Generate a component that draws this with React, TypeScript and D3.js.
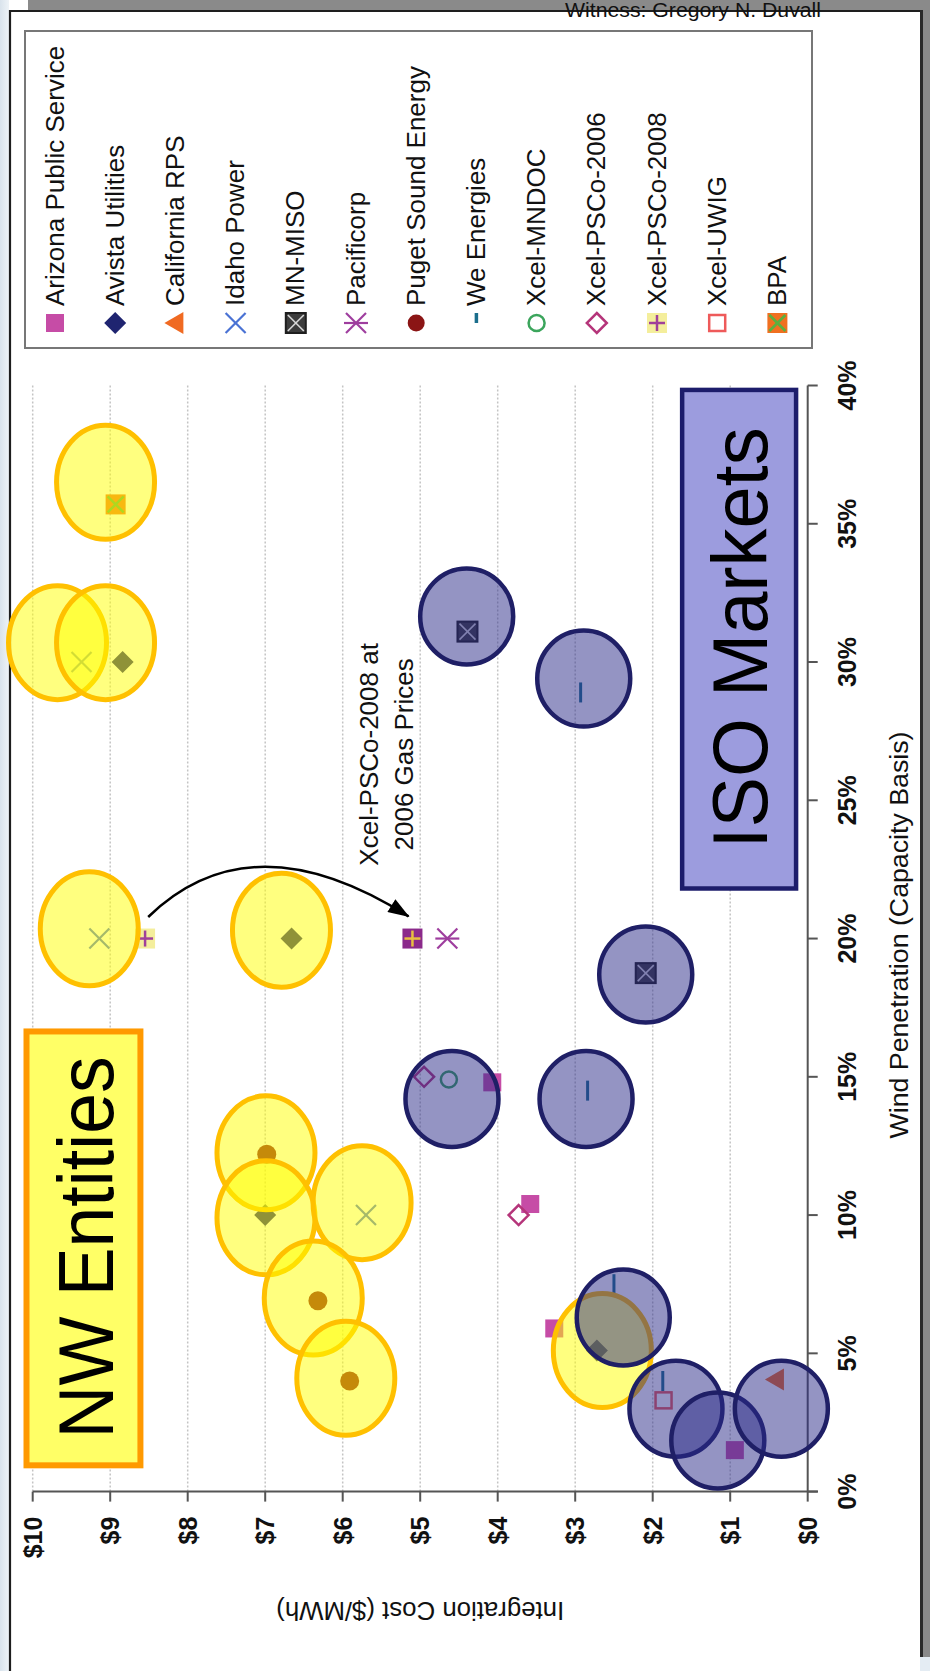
import React from "react";
import * as d3 from "d3";

type Pt = { cost: number; wind: number };

// ---------------- data ----------------
const costTicks = [0, 1, 2, 3, 4, 5, 6, 7, 8, 9, 10];
const costTickLabels = ["$0", "$1", "$2", "$3", "$4", "$5", "$6", "$7", "$8", "$9", "$10"];
const windTicks = [0, 5, 10, 15, 20, 25, 30, 35, 40];
const windTickLabels = ["0%", "5%", "10%", "15%", "20%", "25%", "30%", "35%", "40%"];

const arizonaPublicService: Pt[] = [
  { cost: 4.07, wind: 14.8 },
  { cost: 3.58, wind: 10.4 },
  { cost: 3.27, wind: 5.9 },
  { cost: 0.94, wind: 1.5 },
];
const avistaUtilities: Pt[] = [
  { cost: 8.84, wind: 30.0 },
  { cost: 6.66, wind: 20.0 },
  { cost: 7.0, wind: 10.0 },
  { cost: 2.72, wind: 5.1 },
];
const californiaRPS: Pt[] = [{ cost: 0.41, wind: 4.05 }];
const idahoPower: Pt[] = [
  { cost: 9.37, wind: 30.0 },
  { cost: 9.14, wind: 20.0 },
  { cost: 5.7, wind: 10.0 },
];
const mnMiso: Pt[] = [
  { cost: 4.39, wind: 31.1 },
  { cost: 2.09, wind: 18.75 },
];
const pacificorp: Pt[] = [{ cost: 4.65, wind: 20.0 }];
const pugetSoundEnergy: Pt[] = [
  { cost: 6.98, wind: 12.2 },
  { cost: 6.32, wind: 6.9 },
  { cost: 5.91, wind: 4.0 },
];
const weEnergies: Pt[] = [
  { cost: 2.93, wind: 28.9 },
  { cost: 2.84, wind: 14.5 },
  { cost: 2.5, wind: 7.5 },
  { cost: 1.87, wind: 4.0 },
];
const xcelMNDOC: Pt[] = [{ cost: 4.63, wind: 14.9 }];
const xcelPSCo2006: Pt[] = [
  { cost: 4.95, wind: 15.0 },
  { cost: 3.73, wind: 10.0 },
];
const xcelPSCo2008: Pt[] = [{ cost: 8.55, wind: 20.0 }];
const xcelPSCo2008At2006Gas: Pt[] = [{ cost: 5.1, wind: 20.0 }];
const xcelUWIG: Pt[] = [{ cost: 1.86, wind: 3.3 }];
const bpa: Pt[] = [{ cost: 8.93, wind: 35.7 }];

const legendNames = [
  "Arizona Public Service",
  "Avista Utilities",
  "California RPS",
  "Idaho Power",
  "MN-MISO",
  "Pacificorp",
  "Puget Sound Energy",
  "We Energies",
  "Xcel-MNDOC",
  "Xcel-PSCo-2006",
  "Xcel-PSCo-2008",
  "Xcel-UWIG",
  "BPA",
];

// hand-drawn highlight circles (centres in data units)
const nwEntityCircles: Pt[] = [
  { cost: 9.06, wind: 36.5 },
  { cost: 9.68, wind: 30.7 },
  { cost: 9.06, wind: 30.7 },
  { cost: 9.27, wind: 20.35 },
  { cost: 6.79, wind: 20.3 },
  { cost: 6.99, wind: 12.25 },
  { cost: 6.99, wind: 9.9 },
  { cost: 5.75, wind: 10.45 },
  { cost: 6.38, wind: 7.0 },
  { cost: 5.96, wind: 4.1 },
  { cost: 2.65, wind: 5.1 },
];
const isoMarketCircles: Pt[] = [
  { cost: 4.4, wind: 31.65 },
  { cost: 2.89, wind: 29.4 },
  { cost: 2.09, wind: 18.7 },
  { cost: 4.59, wind: 14.2 },
  { cost: 2.86, wind: 14.2 },
  { cost: 2.38, wind: 6.3 },
  { cost: 1.7, wind: 3.0 },
  { cost: 1.16, wind: 1.85 },
  { cost: 0.34, wind: 3.0 },
];

const witnessText = "Witness: Gregory N. Duvall";
const xAxisTitle = "Wind Penetration (Capacity Basis)";
const yAxisTitle = "Integration Cost ($/MWh)";
const nwLabel = "NW Entities";
const isoLabel = "ISO Markets";
const annotationLines = ["Xcel-PSCo-2008 at", "2006 Gas Prices"];

// ---------------- series table ----------------
const series = [
  { shape: "square", points: arizonaPublicService },
  { shape: "diamond", points: avistaUtilities },
  { shape: "triangle", points: californiaRPS },
  { shape: "x", points: idahoPower },
  { shape: "boxx", points: mnMiso },
  { shape: "asterisk", points: pacificorp },
  { shape: "dot", points: pugetSoundEnergy },
  { shape: "dash", points: weEnergies },
  { shape: "hollowCircle", points: xcelMNDOC },
  { shape: "hollowDiamond", points: xcelPSCo2006 },
  { shape: "plusYellow", points: xcelPSCo2008 },
  { shape: "hollowSquare", points: xcelUWIG },
  { shape: "bpa", points: bpa },
  { shape: "plusPurple", points: xcelPSCo2008At2006Gas },
];

const FONT = "'Liberation Sans', Arial, Helvetica, sans-serif";

function Marker({ shape, cx, cy, legend }: { shape: string; cx: number; cy: number; legend?: boolean }) {
  switch (shape) {
    case "square":
      return <rect x={cx - 9} y={cy - 9} width={18} height={18} fill="#C64CA6" />;
    case "diamond":
      return <path d={`M${cx},${cy - 11}L${cx + 11},${cy}L${cx},${cy + 11}L${cx - 11},${cy}Z`} fill="#1F2470" />;
    case "triangle":
      return <path d={`M${cx - 11},${cy}L${cx + 8},${cy - 11}L${cx + 8},${cy + 11}Z`} fill="#F06A22" />;
    case "x":
      return (
        <g stroke="#4A72D4" strokeWidth={2.2}>
          <line x1={cx - 10} y1={cy - 10} x2={cx + 10} y2={cy + 10} />
          <line x1={cx - 10} y1={cy + 10} x2={cx + 10} y2={cy - 10} />
        </g>
      );
    case "boxx":
      return (
        <g>
          <rect x={cx - 10} y={cy - 10} width={20} height={20} fill="#3c3c3c" stroke="#1e1e1e" strokeWidth={2} />
          <line x1={cx - 8} y1={cy - 8} x2={cx + 8} y2={cy + 8} stroke="#d8d8d8" strokeWidth={1.6} />
          <line x1={cx - 8} y1={cy + 8} x2={cx + 8} y2={cy - 8} stroke="#d8d8d8" strokeWidth={1.6} />
        </g>
      );
    case "asterisk":
      return (
        <g stroke="#9E3D9E" strokeWidth={2.2}>
          <line x1={cx - 10} y1={cy - 10} x2={cx + 10} y2={cy + 10} />
          <line x1={cx - 10} y1={cy + 10} x2={cx + 10} y2={cy - 10} />
          <line x1={cx - 12} y1={cy} x2={cx + 12} y2={cy} />
        </g>
      );
    case "dot":
      return <circle cx={cx} cy={cy} r={legend ? 8.5 : 9.5} fill="#8B1515" />;
    case "dash":
      return legend ? (
        <line x1={cx} y1={cy - 5} x2={cx} y2={cy + 5} stroke="#1B6E8C" strokeWidth={3.5} />
      ) : (
        <line x1={cx} y1={cy - 10} x2={cx} y2={cy + 10} stroke="#1B6E8C" strokeWidth={3} />
      );
    case "hollowCircle":
      return <circle cx={cx} cy={cy} r={8} fill="none" stroke="#3BA55C" strokeWidth={2.5} />;
    case "hollowDiamond":
      return (
        <path
          d={`M${cx},${cy - 10}L${cx + 10},${cy}L${cx},${cy + 10}L${cx - 10},${cy}Z`}
          fill="none"
          stroke="#B5357A"
          strokeWidth={2.5}
        />
      );
    case "plusYellow":
      return (
        <g>
          <rect x={cx - 10} y={cy - 10} width={20} height={20} fill="#F4EE9C" />
          <line x1={cx - 8} y1={cy} x2={cx + 8} y2={cy} stroke="#A0409A" strokeWidth={2.5} />
          <line x1={cx} y1={cy - 8} x2={cx} y2={cy + 8} stroke="#A0409A" strokeWidth={2.5} />
        </g>
      );
    case "hollowSquare":
      return <rect x={cx - 8} y={cy - 8} width={16} height={16} fill="none" stroke="#EE5A5A" strokeWidth={2.5} />;
    case "bpa":
      return (
        <g>
          <rect x={cx - 10} y={cy - 10} width={20} height={20} fill="#F07020" />
          <line x1={cx - 8} y1={cy - 8} x2={cx + 8} y2={cy + 8} stroke="#5AB040" strokeWidth={2.5} />
          <line x1={cx - 8} y1={cy + 8} x2={cx + 8} y2={cy - 8} stroke="#5AB040" strokeWidth={2.5} />
        </g>
      );
    case "plusPurple":
      return (
        <g>
          <rect x={cx - 10} y={cy - 10} width={20} height={20} fill="#8B2A8B" />
          <line x1={cx - 8} y1={cy} x2={cx + 8} y2={cy} stroke="#E8C040" strokeWidth={2.5} />
          <line x1={cx} y1={cy - 8} x2={cx} y2={cy + 8} stroke="#E8C040" strokeWidth={2.5} />
        </g>
      );
    default:
      return null;
  }
}

export default function App() {
  const W = 930;
  const H = 1671;
  const x = d3.scaleLinear().domain([0, 10]).range([807.7, 32.7]);
  const y = d3.scaleLinear().domain([0, 40]).range([1491.6, 385.5]);

  const legendX = d3.scaleLinear().domain([0, legendNames.length - 1]).range([55, 777.4]);
  const legendMarkerY = 323;
  const legendTextY = 306;

  // arrow (data units)
  const arrowStart = { cost: 8.51, wind: 20.78 };
  const arrowCtrl = { cost: 7.18, wind: 24.4 };
  const arrowEnd = { cost: 5.15, wind: 20.8 };
  const arrowPath = d3.path();
  arrowPath.moveTo(x(arrowStart.cost), y(arrowStart.wind));
  arrowPath.quadraticCurveTo(x(arrowCtrl.cost), y(arrowCtrl.wind), x(arrowEnd.cost), y(arrowEnd.wind));

  const nwBox = { c0: 10.08, c1: 8.61, w0: 16.64, w1: 0.95 };
  const isoBox = { c0: 1.62, c1: 0.15, w0: 39.84, w1: 21.81 };

  const rot = (px: number, py: number) => `rotate(-90 ${px} ${py})`;

  return (
    <svg
      width={W}
      height={H}
      viewBox={`0 0 ${W} ${H}`}
      style={{ position: "absolute", left: 0, top: 0, display: "block" }}
      fontFamily={FONT}
    >
      <defs>
        <linearGradient id="leftStrip" x1="0" x2="1" y1="0" y2="0">
          <stop offset="0" stopColor="#d9e3ec" />
          <stop offset="1" stopColor="#eef3f7" />
        </linearGradient>
        <marker
          id="arrowHead"
          viewBox="0 0 10 7"
          refX={9.5}
          refY={3.5}
          markerWidth={22}
          markerHeight={15}
          markerUnits="userSpaceOnUse"
          orient="auto"
        >
          <path d="M0,0L10,3.5L0,7Z" fill="#000" />
        </marker>
      </defs>

      {/* page / frame */}
      <rect x={0} y={0} width={W} height={H} fill="#ffffff" />
      <rect x={0} y={0} width={9} height={H} fill="url(#leftStrip)" />
      <rect x={28} y={0} width={W - 28} height={10} fill="#8a8a8a" />
      <rect x={920} y={0} width={10} height={1657} fill="#8a8a8a" />
      <rect x={920} y={1657} width={10} height={H - 1657} fill="#e4ecf3" />
      <line x1={9} y1={11} x2={922} y2={11} stroke="#1e1e1e" strokeWidth={2.2} />
      <line x1={10} y1={10} x2={10} y2={H} stroke="#1e1e1e" strokeWidth={2.2} />
      <line x1={921.5} y1={10} x2={921.5} y2={1657} stroke="#2a2a2a" strokeWidth={3} />

      <text x={565} y={17} fontSize={20} fill="#111" textLength={256} lengthAdjust="spacingAndGlyphs">
        {witnessText}
      </text>

      {/* legend */}
      <rect x={25} y={31} width={787} height={317} fill="#fff" stroke="#777" strokeWidth={2} />
      {legendNames.map((name, i) => {
        const cx = legendX(i);
        const shape = series[i].shape;
        return (
          <g key={name}>
            <Marker shape={shape} cx={cx} cy={shape === "dash" ? 318 : legendMarkerY} legend />
            <text x={cx + 8.5} y={legendTextY} transform={rot(cx + 8.5, legendTextY)} fontSize={26} fill="#111">
              {name}
            </text>
          </g>
        );
      })}

      {/* grid */}
      {costTicks
        .filter((t) => t > 0)
        .map((t) => (
          <line
            key={"g" + t}
            x1={x(t)}
            x2={x(t)}
            y1={y(0)}
            y2={y(40)}
            stroke="#c4c4c4"
            strokeWidth={1.5}
            strokeDasharray="2,2"
          />
        ))}

      {/* axes */}
      <line x1={x(10)} x2={818} y1={y(0)} y2={y(0)} stroke="#555" strokeWidth={2} />
      <line x1={x(0)} x2={x(0)} y1={y(0)} y2={y(40)} stroke="#555" strokeWidth={2} />
      {costTicks.map((t, i) => (
        <g key={"ct" + t}>
          <line x1={x(t)} x2={x(t)} y1={y(0)} y2={y(0) + 10} stroke="#555" strokeWidth={2} />
          <text
            x={x(t) + 9}
            y={y(0) + 25}
            transform={rot(x(t) + 9, y(0) + 25)}
            textAnchor="end"
            fontSize={25}
            fontWeight="bold"
            fill="#111"
          >
            {costTickLabels[i]}
          </text>
        </g>
      ))}
      {windTicks.map((t, i) => (
        <g key={"wt" + t}>
          <line x1={x(0)} x2={x(0) + 10} y1={y(t)} y2={y(t)} stroke="#555" strokeWidth={2} />
          <text
            x={x(0) + 48}
            y={y(t)}
            transform={rot(x(0) + 48, y(t))}
            textAnchor="middle"
            fontSize={25}
            fontWeight="bold"
            fill="#111"
          >
            {windTickLabels[i]}
          </text>
        </g>
      ))}
      <text
        x={908}
        y={935}
        transform={rot(908, 935)}
        textAnchor="middle"
        fontSize={26}
        fill="#111"
        textLength={407}
        lengthAdjust="spacingAndGlyphs"
      >
        {xAxisTitle}
      </text>
      <text
        x={x(5)}
        y={1602}
        transform={`rotate(180 ${x(5)} 1602)`}
        textAnchor="middle"
        fontSize={26}
        fill="#111"
        textLength={288}
        lengthAdjust="spacingAndGlyphs"
      >
        {yAxisTitle}
      </text>

      {/* data markers */}
      {series.map((s, si) =>
        s.points.map((p, pi) => <Marker key={`m${si}-${pi}`} shape={s.shape} cx={x(p.cost)} cy={y(p.wind)} />)
      )}

      {/* annotation arrow and text */}
      <path d={arrowPath.toString()} fill="none" stroke="#000" strokeWidth={2.5} markerEnd="url(#arrowHead)" />
      {annotationLines.map((line, i) => {
        const bx = x(i === 0 ? 5.545 : 5.09);
        const by = y(26.66);
        return (
          <text key={line} x={bx} y={by} transform={rot(bx, by)} textAnchor="middle" fontSize={26} fill="#111">
            {line}
          </text>
        );
      })}

      {/* NW Entities highlight circles */}
      {nwEntityCircles.map((c, i) => (
        <ellipse
          key={"nw" + i}
          cx={x(c.cost)}
          cy={y(c.wind)}
          rx={49}
          ry={57}
          fill="#FFFF00"
          fillOpacity={0.5}
          stroke="#FFC000"
          strokeWidth={5}
        />
      ))}
      {/* ISO Markets highlight circles */}
      {isoMarketCircles.map((c, i) => (
        <ellipse
          key={"iso" + i}
          cx={x(c.cost)}
          cy={y(c.wind)}
          rx={46.5}
          ry={48}
          fill="#2A2A88"
          fillOpacity={0.5}
          stroke="#1F1F66"
          strokeWidth={4.5}
        />
      ))}

      {/* NW Entities label box */}
      <rect
        x={x(nwBox.c0)}
        y={y(nwBox.w0)}
        width={x(nwBox.c1) - x(nwBox.c0)}
        height={y(nwBox.w1) - y(nwBox.w0)}
        fill="#FFFF66"
        stroke="#FF9900"
        strokeWidth={6}
      />
      <text
        x={x(8.96)}
        y={y(8.83)}
        transform={rot(x(8.96), y(8.83))}
        textAnchor="middle"
        fontSize={77}
        fill="#000"
        textLength={382}
        lengthAdjust="spacingAndGlyphs"
      >
        {nwLabel}
      </text>

      {/* ISO Markets label box */}
      <rect
        x={x(isoBox.c0)}
        y={y(isoBox.w0)}
        width={x(isoBox.c1) - x(isoBox.c0)}
        height={y(isoBox.w1) - y(isoBox.w0)}
        fill="#9C9CDE"
        stroke="#1C1C6B"
        strokeWidth={4.5}
      />
      <text
        x={x(0.525)}
        y={y(30.87)}
        transform={rot(x(0.525), y(30.87))}
        textAnchor="middle"
        fontSize={78}
        fill="#000"
        textLength={421}
        lengthAdjust="spacingAndGlyphs"
      >
        {isoLabel}
      </text>
    </svg>
  );
}
